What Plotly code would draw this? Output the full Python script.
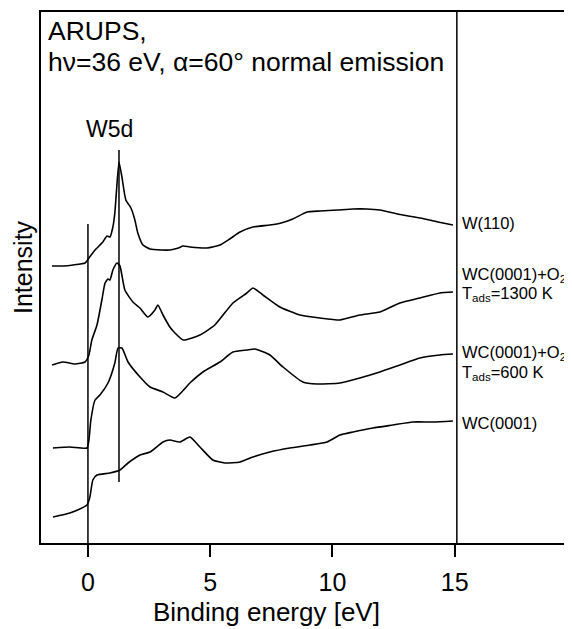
import plotly.graph_objects as go

# ---- data (binding energy in eV, intensity in arb. units) ----
w110_e = [-1.47, -1.0, -0.61, -0.12, 0.04, 0.29, 0.61, 0.78, 0.90, 1.02, 1.10, 1.15, 1.27, 1.39,
          1.55, 1.76, 1.92, 2.04, 2.25, 2.54, 3.0, 3.35, 3.70, 3.89, 4.17, 4.87, 5.40, 5.80,
          6.22, 6.75, 7.44, 7.90, 8.38, 8.96, 9.49, 10.2, 10.84, 11.4, 11.94, 12.88, 13.58,
          14.52, 14.93]
w110_i = [277, 277, 278, 280, 285, 293, 301, 307, 306, 316, 330, 346, 381, 366,
          343, 335, 323, 310, 298, 294, 293, 293, 295, 297, 296, 295, 298, 304,
          311, 316, 318, 320, 324, 331, 332, 333, 334, 334, 333, 328, 325,
          320, 318]

o2_1300_e = [-1.47, -1.02, -0.53, -0.12, 0.04, 0.16, 0.37, 0.57, 0.70, 0.82, 0.90, 1.02, 1.19,
             1.31, 1.51, 1.84, 2.13, 2.45, 2.74, 2.86, 3.07, 3.35, 3.56, 3.89, 4.58, 5.19,
             5.93, 6.50, 6.75, 7.16, 7.85, 8.67, 9.49, 10.31, 11.12, 11.94, 12.76, 13.58,
             14.40, 14.93]
o2_1300_i = [178, 181, 179, 181, 188, 203, 218, 243, 260, 264, 263, 273, 280,
             277, 253, 241, 235, 226, 233, 238, 228, 216, 210, 203, 208, 218,
             240, 250, 255, 248, 236, 228, 225, 223, 228, 231, 240, 245,
             250, 251]

o2_600_e = [-1.43, -0.74, -0.04, 0.04, 0.12, 0.29, 0.49, 0.82, 1.10, 1.23, 1.39, 1.64, 2.13,
            2.54, 3.07, 3.56, 4.17, 4.70, 5.40, 5.93, 6.50, 6.83, 7.44, 7.98, 8.79, 9.37,
            10.31, 11.12, 11.94, 12.76, 13.58, 14.40, 14.93]
o2_600_i = [95, 96, 95, 103, 123, 143, 148, 160, 180, 195, 195, 181, 166,
            156, 151, 145, 160, 171, 181, 191, 193, 194, 188, 176, 161, 159,
            160, 165, 171, 178, 185, 188, 189]

wc_e = [-1.43, -0.74, -0.33, -0.04, 0.08, 0.20, 0.37, 0.90, 1.31, 1.64, 2.13, 2.54, 3.07,
        3.35, 3.76, 4.17, 4.58, 5.11, 5.60, 6.22, 6.75, 7.44, 8.26, 9.08, 9.78, 10.31,
        10.84, 11.66, 12.47, 13.29, 14.11, 14.93]
wc_i = [26, 30, 34, 38, 46, 63, 68, 70, 73, 80, 88, 91, 101,
        103, 101, 106, 96, 83, 80, 81, 86, 91, 95, 98, 101, 108,
        111, 115, 118, 121, 121, 122]

x_ticks = [0, 5, 10, 15]
fermi_line = [0.0, 319]        # energy, top of line
w5d_line = [1.27, 61, 393]     # energy, bottom, top
end_line = 15.09

FONT = "Liberation Sans, Arial, sans-serif"

fig = go.Figure()
for e, i in [(w110_e, w110_i), (o2_1300_e, o2_1300_i), (o2_600_e, o2_600_i), (wc_e, wc_i)]:
    fig.add_trace(go.Scatter(x=e, y=i, mode="lines",
                             line=dict(color="black", width=1.6, shape="spline", smoothing=0.5),
                             hoverinfo="skip", showlegend=False))

# vertical reference lines
fig.add_shape(type="line", x0=fermi_line[0], x1=fermi_line[0], y0=0, y1=fermi_line[1],
              xref="x", yref="y", line=dict(color="black", width=1.5))
fig.add_shape(type="line", x0=w5d_line[0], x1=w5d_line[0], y0=w5d_line[1], y1=w5d_line[2],
              xref="x", yref="y", line=dict(color="black", width=1.5))
fig.add_shape(type="line", x0=end_line, x1=end_line, y0=0, y1=1,
              xref="x", yref="paper", line=dict(color="black", width=1.5))

ann = []
ann.append(dict(x=-1.70, y=512, text="ARUPS,", xanchor="left", yanchor="middle",
                showarrow=False, font=dict(size=26.5, color="black", family=FONT)))
ann.append(dict(x=-1.70, y=481, text="hν=36 eV, α=60° normal emission", xanchor="left",
                yanchor="middle", showarrow=False, font=dict(size=26.5, color="black", family=FONT)))
ann.append(dict(x=0.88, y=414, text="W5d", xanchor="center", yanchor="middle",
                showarrow=False, font=dict(size=23, color="black", family=FONT)))
labels = [("W(110)", 320), ("WC(0001)+O<sub>2</sub>", 268), ("T<sub>ads</sub>=1300 K", 249),
          ("WC(0001)+O<sub>2</sub>", 190), ("T<sub>ads</sub>=600 K", 170), ("WC(0001)", 120)]
for t, yy in labels:
    ann.append(dict(x=15.2, y=yy, text=t, xanchor="left", yanchor="middle", showarrow=False,
                    font=dict(size=16.5, color="black", family=FONT)))
ann.append(dict(x=7.3, xref="x", y=-69 / 531, yref="paper", text="Binding energy [eV]",
                showarrow=False, xanchor="center", yanchor="middle",
                font=dict(size=26, color="black", family=FONT)))
ann.append(dict(xref="paper", x=0, xshift=-18, y=276, yref="y", text="Intensity", textangle=-90,
                showarrow=False, xanchor="center", yanchor="middle", borderpad=0,
                font=dict(size=25, color="black", family=FONT)))
fig.update_layout(annotations=ann)

# the page body adds an 8 px margin, so the figure is sized to the remaining window
fig.update_layout(
    width=564, height=621,
    margin=dict(l=33, r=0, t=4, b=86),
    plot_bgcolor="white", paper_bgcolor="white",
    xaxis=dict(range=[-1.92, 19.8], tickvals=x_ticks, ticks="outside", ticklen=12,
               tickwidth=1.5, tickcolor="black", showline=True, linecolor="black",
               linewidth=1.5, mirror=True, showgrid=False, zeroline=False,
               ticklabelstandoff=4,
               tickfont=dict(size=25, color="black", family=FONT)),
    yaxis=dict(range=[0, 531], showticklabels=False, ticks="", showline=True,
               linecolor="black", linewidth=1.5, showgrid=False, zeroline=False),
)

fig.write_html("out.html")
